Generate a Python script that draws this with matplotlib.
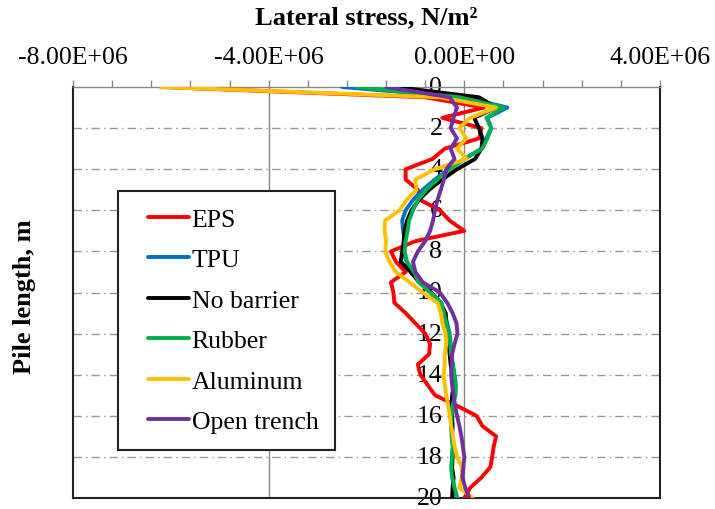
import numpy as np
import matplotlib
matplotlib.use("Agg")
import matplotlib.pyplot as plt
from matplotlib.ticker import MultipleLocator
from matplotlib.lines import Line2D
from matplotlib.legend_handler import HandlerLine2D

plt.rcParams['font.family'] = ['Liberation Serif', 'DejaVu Serif']

# pile depth (m)
depth = [0, 0.5, 1, 1.5, 2, 2.5, 3, 3.5, 4, 4.5, 5, 5.5, 6, 6.5, 7, 7.5, 8, 8.5, 9, 9.5,
         10, 10.5, 11, 11.5, 12, 12.5, 13, 13.5, 14, 14.5, 15, 15.5, 16, 16.5, 17, 17.5,
         18, 18.5, 19, 19.5, 20]

# lateral stress, in 1E6 N/m2
eps = [-6.2, -0.8, 0.4, -0.45, 0.35, 0.3, -0.4, -0.65, -1.2, -1.2, -0.95, -0.9, -0.5, -0.3,
       0.0, -1.0, -1.5, -1.4, -1.2, -1.5, -1.45, -1.43, -1.2, -1.0, -0.8, -0.7, -0.72, -0.95,
       -0.9, -0.75, -0.6, -0.16, 0.25, 0.37, 0.65, 0.6, 0.57, 0.53, 0.35, 0.12, 0.0]
tpu = [-2.5, 0.0, 0.88, 0.47, 0.55, 0.45, 0.35, 0.0, -0.32, -0.6, -0.85, -1.05, -1.2, -1.27,
       -1.25, -1.22, -1.25, -1.18, -1.05, -0.9, -0.68, -0.47, -0.4, -0.35, -0.3, -0.28, -0.26,
       -0.24, -0.21, -0.19, -0.2, -0.23, -0.25, -0.26, -0.25, -0.23, -0.25, -0.26, -0.24,
       -0.21, -0.16]
no_barrier = [-1.4, 0.3, 0.65, 0.2, 0.3, 0.37, 0.35, 0.22, -0.15, -0.45, -0.72, -0.93, -1.08,
              -1.17, -1.22, -1.24, -1.27, -1.3, -1.1, -0.92, -0.68, -0.5, -0.38, -0.37, -0.35,
              -0.32, -0.3, -0.28, -0.25, -0.22, -0.25, -0.26, -0.25, -0.24, -0.25, -0.22,
              -0.24, -0.25, -0.22, -0.24, -0.25]
rubber = [-2.2, -0.1, 0.8, 0.45, 0.55, 0.47, 0.37, 0.0, -0.3, -0.55, -0.78, -0.95, -1.05,
          -1.13, -1.16, -1.2, -1.22, -1.17, -1.03, -0.93, -0.7, -0.47, -0.42, -0.37, -0.31,
          -0.29, -0.27, -0.23, -0.2, -0.17, -0.18, -0.24, -0.26, -0.27, -0.26, -0.24, -0.25,
          -0.27, -0.25, -0.2, -0.14]
aluminum = [-6.2, -0.5, 0.65, 0.12, -0.1, 0.04, -0.15, 0.05, -0.6, -1.0, -0.98, -1.18, -1.33,
            -1.62, -1.63, -1.6, -1.62, -1.53, -1.4, -1.12, -0.85, -0.55, -0.48, -0.45, -0.38,
            -0.37, -0.4, -0.4, -0.42, -0.4, -0.37, -0.33, -0.3, -0.27, -0.23, -0.2, -0.15,
            -0.05, -0.05, -0.1, 0.17]
open_trench = [-1.6, -0.3, -0.15, -0.22, -0.28, -0.15, -0.28, -0.2, -0.37, -0.42, -0.48,
               -0.55, -0.6, -0.64, -0.7, -0.8, -0.95, -1.05, -1.0, -0.85, -0.5, -0.35, -0.24,
               -0.16, -0.14, -0.2, -0.25, -0.26, -0.27, -0.25, -0.22, -0.19, -0.15, -0.1,
               -0.06, -0.03, 0.0, -0.02, -0.04, 0.02, 0.1]

series = [("EPS", eps, "#FF0000"),
          ("TPU", tpu, "#0070C0"),
          ("No barrier", no_barrier, "#000000"),
          ("Rubber", rubber, "#00B050"),
          ("Aluminum", aluminum, "#FFC000"),
          ("Open trench", open_trench, "#7030A0")]

x_ticks = [-8e6, -4e6, 0, 4e6]
y_ticks = [0, 2, 4, 6, 8, 10, 12, 14, 16, 18, 20]

fig = plt.figure(figsize=(7.15, 5.1), dpi=100)
ax = fig.add_axes([73 / 715, 1 - 499 / 510, 587 / 715, 411 / 510])

# grid
for y in y_ticks[1:-1]:
    ax.axhline(y, color="#999999", lw=1, ls=(0, (6, 3, 1, 3)), zorder=1)
for x in x_ticks[1:-1]:
    ax.axvline(x, color="#888888", lw=1, zorder=1)

for name, vals, color in series:
    ax.plot(np.array(vals) * 1e6, depth, color=color, lw=2.8, label=name,
            solid_joinstyle="round", solid_capstyle="round", zorder=3)

ax.set_xlim(-8e6, 4e6)
ax.set_ylim(20, 0)

ax.xaxis.tick_top()
ax.set_xticks(x_ticks)
ax.set_xticklabels(["{:.2E}".format(v) for v in x_ticks], fontsize=18.5)
ax.xaxis.set_minor_locator(MultipleLocator(0.8e6))
ax.tick_params(axis="x", which="both", direction="out", length=5, width=1,
               color="#888888", pad=9)
ax.set_yticks([])

# depth labels sit next to the zero line, as in the original
for y in y_ticks:
    ax.text(-0.45e6, y, str(y), ha="right", va="center", fontsize=18.5, zorder=2)

for side in ["left", "bottom", "right"]:
    ax.spines[side].set_color("#222222")
    ax.spines[side].set_linewidth(1.5)
ax.spines["top"].set_color("#888888")
ax.spines["top"].set_linewidth(1)

fig.text(366 / 715, 1 - 18 / 510, "Lateral stress, N/m²", ha="center",
         va="center", fontsize=19, fontweight="bold")
fig.text(25 / 715, 1 - 297 / 510, "Pile length, m", ha="center", va="center",
         rotation=90, fontsize=19, fontweight="bold")

leg = ax.legend(loc="upper left", bbox_to_anchor=(0.0767, 0.747), borderaxespad=0,
                fontsize=18.5, handlelength=2.12, handletextpad=0.1, labelspacing=0.68,
                borderpad=0.65, fancybox=False, framealpha=1,
                handler_map={Line2D: HandlerLine2D(xpad=0.5)})
leg.get_frame().set_edgecolor("#222222")
leg.get_frame().set_linewidth(1.5)

fig.savefig("out.png", dpi=100)
